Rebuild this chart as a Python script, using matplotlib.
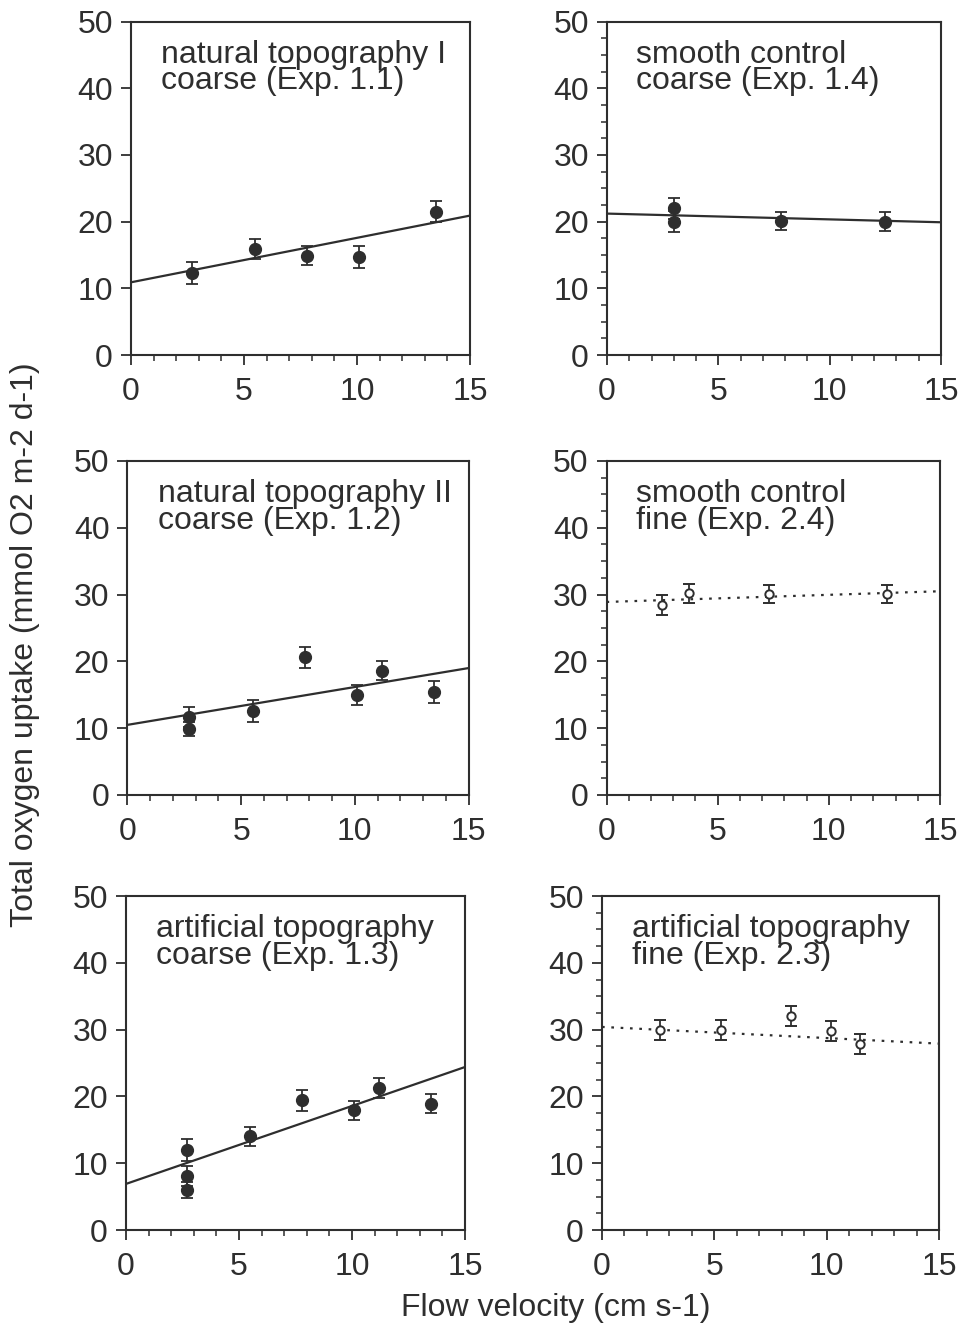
import matplotlib.pyplot as plt
from matplotlib.ticker import MultipleLocator

plt.rcParams['font.family'] = ['Liberation Sans', 'DejaVu Sans']

INK = '#2e2e2e'

# flow velocity (cm s-1), total O2 uptake (mmol O2 m-2 d-1), error (+/-)
nat1_v = [2.7, 5.5, 7.8, 10.1, 13.5]
nat1_o2 = [12.3, 15.9, 14.9, 14.7, 21.5]
nat1_err = [1.6, 1.5, 1.4, 1.6, 1.6]
nat1_fit = [10.9, 20.9]

smooth14_v = [3.0, 3.0, 7.8, 12.5]
smooth14_o2 = [22.0, 20.0, 20.1, 20.0]
smooth14_err = [1.6, 1.6, 1.4, 1.4]
smooth14_fit = [21.2, 19.9]

nat2_v = [2.7, 2.7, 5.5, 7.8, 10.1, 11.2, 13.5]
nat2_o2 = [11.7, 9.9, 12.6, 20.6, 15.0, 18.6, 15.4]
nat2_err = [1.5, 1.0, 1.6, 1.6, 1.5, 1.4, 1.6]
nat2_fit = [10.5, 19.0]

smooth24_v = [2.5, 3.7, 7.3, 12.6]
smooth24_o2 = [28.4, 30.2, 30.1, 30.1]
smooth24_err = [1.5, 1.4, 1.4, 1.4]
smooth24_fit = [28.9, 30.5]

art13_v = [2.7, 2.7, 2.7, 5.5, 7.8, 10.1, 11.2, 13.5]
art13_o2 = [12.0, 8.1, 6.0, 14.0, 19.4, 17.9, 21.2, 18.9]
art13_err = [1.6, 1.5, 1.2, 1.4, 1.6, 1.4, 1.5, 1.4]
art13_fit = [6.9, 24.4]

art23_v = [2.6, 5.3, 8.4, 10.2, 11.5]
art23_o2 = [30.0, 30.0, 32.0, 29.8, 27.9]
art23_err = [1.5, 1.5, 1.5, 1.5, 1.5]
art23_fit = [30.4, 27.9]

fit_v = [0, 15]

labels = [
    'natural topography I\ncoarse (Exp. 1.1)',
    'smooth control\ncoarse (Exp. 1.4)',
    'natural topography II\ncoarse (Exp. 1.2)',
    'smooth control\nfine (Exp. 2.4)',
    'artificial topography\ncoarse (Exp. 1.3)',
    'artificial topography\nfine (Exp. 2.3)',
]

W, H = 968, 1327
fig = plt.figure(figsize=(W / 100, H / 100), dpi=100)

# panel boxes in pixels: left, top, right, bottom
boxes = [
    (131, 21.5, 470, 355),
    (607, 21.5, 941, 355),
    (127.5, 461, 468.5, 795),
    (606.5, 461, 940, 795),
    (126, 896, 465, 1230),
    (602, 896, 939, 1230),
]

series = [
    (nat1_v, nat1_o2, nat1_err, nat1_fit, False),
    (smooth14_v, smooth14_o2, smooth14_err, smooth14_fit, False),
    (nat2_v, nat2_o2, nat2_err, nat2_fit, False),
    (smooth24_v, smooth24_o2, smooth24_err, smooth24_fit, True),
    (art13_v, art13_o2, art13_err, art13_fit, False),
    (art23_v, art23_o2, art23_err, art23_fit, True),
]

for i, ((l, t, r, b), (v, o2, err, fit, fine)) in enumerate(zip(boxes, series)):
    ax = fig.add_axes([l / W, 1 - b / H, (r - l) / W, (b - t) / H])
    if fine:
        ax.errorbar(v, o2, yerr=err, fmt='o', ms=6, mfc='white', mec=INK,
                    mew=1.4, ecolor=INK, elinewidth=1.3, capsize=4,
                    capthick=1.3, zorder=3)
        ax.plot(fit_v, fit, color=INK, lw=1.6, ls=(0, (1.2, 3)), zorder=2)
    else:
        ax.errorbar(v, o2, yerr=err, fmt='o', ms=8.5, color=INK, ecolor=INK,
                    elinewidth=1.3, capsize=4, capthick=1.3, zorder=3)
        ax.plot(fit_v, fit, color=INK, lw=1.6, zorder=2)

    ax.set_xlim(0, 15)
    ax.set_ylim(0, 50)
    ax.set_xticks([0, 5, 10, 15])
    ax.set_yticks(range(0, 51, 10))
    ax.xaxis.set_minor_locator(MultipleLocator(1))
    if i % 2 == 1:
        ax.yaxis.set_minor_locator(MultipleLocator(2.5))
    for s in ax.spines.values():
        s.set_linewidth(1.5)
        s.set_color(INK)
    ax.tick_params(which='major', direction='out', length=7, width=1.3,
                   color=INK, labelcolor=INK, labelsize=23)
    ax.tick_params(which='minor', direction='out', length=4, width=1.1,
                   color=INK)
    ax.tick_params(axis='x', pad=9)
    ax.tick_params(axis='y', pad=6)
    ax.text(0.088, 0.945, labels[i], transform=ax.transAxes, ha='left',
            va='top', fontsize=23, color=INK, linespacing=0.85)

fig.text(25 / W, 1 - 645 / H, 'Total oxygen uptake (mmol O2 m-2 d-1)',
         rotation=90, ha='center', va='center', fontsize=23, color=INK)
fig.text(556 / W, 1 - 1308 / H, 'Flow velocity (cm s-1)',
         ha='center', va='center', fontsize=23, color=INK)

fig.savefig('out.png', dpi=100)
